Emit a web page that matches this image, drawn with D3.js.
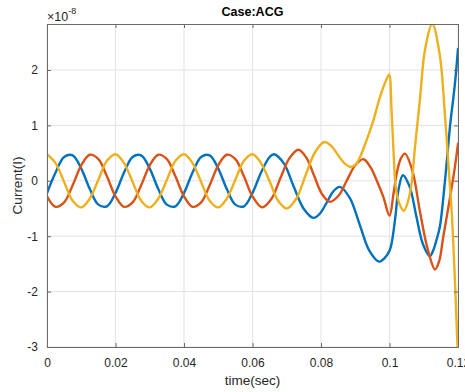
<!DOCTYPE html>
<html><head><meta charset="utf-8">
<script src="https://cdn.jsdelivr.net/npm/d3@7"></script>
<style>
body{margin:0;background:#fff;}
svg{display:block;font-family:"Liberation Sans",Arial,Helvetica,sans-serif;}
</style>
</head><body>
<svg id="chart" width="465" height="392"></svg>
<script>
// ---- data (values in units of 1e-8 A) ----
const title = "Case:ACG";
const xLabel = "time(sec)";
const yLabel = "Current(I)";
const xTicks = [0, 0.02, 0.04, 0.06, 0.08, 0.1, 0.12];
const xTickLabels = ["0", "0.02", "0.04", "0.06", "0.08", "0.1", "0.12"];
const yTicks = [-3, -2, -1, 0, 1, 2];
const yTickLabels = ["-3", "-2", "-1", "0", "1", "2"];

const blueTime = [0,0.0025,0.005,0.0075,0.01,0.0125,0.015,0.0175,0.02,0.0225,0.025,0.0275,0.03,0.0325,0.035,0.0375,0.04,0.0425,0.045,0.0475,0.05,0.0525,0.055,0.0575,0.06,0.0625,0.065,
  0.0663,0.0692,0.0720,0.0749,0.0778,0.0797,0.0817,0.0836,0.0855,0.0884,0.0913,0.0941,0.0970,0.0985,0.1001,0.1016,0.1026,0.1039,0.1059,0.1078,0.1098,0.1118,0.1128,0.1138,0.1147,0.1162,0.1177,0.1191,0.12];
const blueValues = [-0.22,0.15,0.43,0.46,0.22,-0.15,-0.43,-0.46,-0.22,0.15,0.43,0.46,0.22,-0.15,-0.43,-0.46,-0.22,0.15,0.43,0.46,0.22,-0.15,-0.43,-0.46,-0.22,0.15,0.43,
  0.48,0.31,-0.10,-0.50,-0.67,-0.59,-0.39,-0.19,-0.11,-0.31,-0.79,-1.26,-1.46,-1.40,-1.25,-0.71,-0.17,0.10,-0.11,-0.63,-1.15,-1.36,-1.25,-1.05,-0.83,0.0,1.0,1.75,2.38];

const redTime = [0,0.0025,0.005,0.0075,0.01,0.0125,0.015,0.0175,0.02,0.0225,0.025,0.0275,0.03,0.0325,0.035,0.0375,0.04,0.0425,0.045,0.0475,0.05,0.0525,0.055,0.0575,0.06,
  0.0628,0.0655,0.0681,0.0708,0.0734,0.0757,0.0780,0.0803,0.0826,0.0851,0.0875,0.0900,0.0924,0.0944,0.0963,0.0982,0.1000,0.1012,0.1021,0.1033,0.1045,0.1067,0.1089,0.1111,0.1133,0.1145,0.1157,0.1177,0.1191,0.12];
const redValues = [-0.28,-0.47,-0.39,-0.08,0.28,0.47,0.39,0.08,-0.28,-0.47,-0.39,-0.08,0.28,0.47,0.39,0.08,-0.28,-0.47,-0.39,-0.08,0.28,0.47,0.39,0.08,-0.28,
  -0.48,-0.33,0.04,0.41,0.56,0.42,0.09,-0.24,-0.38,-0.27,0.0,0.28,0.39,0.25,0.0,-0.29,-0.63,-0.22,0.13,0.40,0.49,0.18,-0.56,-1.22,-1.60,-1.45,-1.01,-0.29,0.25,0.67];

const yellowTime = [0,0.0025,0.005,0.0075,0.01,0.0125,0.015,0.0175,0.02,0.0225,0.025,0.0275,0.03,0.0325,0.035,0.0375,0.04,0.0425,0.045,0.0475,0.05,0.0525,0.055,0.0575,0.06,0.0625,
  0.065,0.0675,0.070,0.0728,0.0755,0.0783,0.0810,0.0830,0.0849,0.0868,0.0887,0.0902,0.0914,0.0933,0.0953,0.0972,0.0992,0.0999,0.1006,0.1013,0.1018,0.1028,0.1042,0.1055,0.1065,0.1074,0.1089,0.1104,0.1125,0.1147,0.1162,0.1172,0.1182,0.1191,0.1198,0.12];
const yellowValues = [0.48,0.32,-0.02,-0.36,-0.48,-0.32,0.02,0.36,0.48,0.32,-0.02,-0.36,-0.48,-0.32,0.02,0.36,0.48,0.32,-0.02,-0.36,-0.48,-0.32,0.02,0.36,0.48,0.32,
  -0.01,-0.36,-0.50,-0.32,0.10,0.52,0.70,0.63,0.47,0.32,0.25,0.30,0.43,0.73,1.09,1.51,1.84,1.92,1.27,0.37,-0.10,-0.40,-0.54,-0.35,-0.02,0.58,1.48,2.38,2.83,2.26,1.18,0.30,-0.60,-1.80,-2.90,-3.10];

const seriesColors = ["#0072BD", "#D95319", "#EDB120"];

// ---- layout ----
const svg = d3.select("#chart");
const L = 47, R = 458, T = 24, B = 347;
const x = d3.scaleLinear().domain([0, 0.12]).range([L, R]);
const y = d3.scaleLinear().domain([-3, 2.83]).range([B, T]);

// grid
const grid = svg.append("g").attr("stroke", "#e3e3e3").attr("stroke-width", 1);
xTicks.forEach(t => grid.append("line").attr("x1", x(t)).attr("x2", x(t)).attr("y1", T).attr("y2", B));
yTicks.forEach(t => grid.append("line").attr("x1", L).attr("x2", R).attr("y1", y(t)).attr("y2", y(t)));

// clip
svg.append("defs").append("clipPath").attr("id", "clip")
  .append("rect").attr("x", L).attr("y", T).attr("width", R - L).attr("height", B - T);

const line = d3.line().x(d => x(d[0])).y(d => y(d[1])).curve(d3.curveCatmullRom.alpha(0.5));
const series = [
  d3.zip(blueTime, blueValues),
  d3.zip(redTime, redValues),
  d3.zip(yellowTime, yellowValues)
];
const plot = svg.append("g").attr("clip-path", "url(#clip)");
series.forEach((s, i) => {
  plot.append("path").datum(s).attr("d", line)
    .attr("fill", "none").attr("stroke", seriesColors[i])
    .attr("stroke-width", 2.4).attr("stroke-linejoin", "round").attr("stroke-linecap", "round");
});

// axes
const axColor = "#6a6a6a", txtColor = "#262626";
function style(g) {
  g.select(".domain").attr("stroke", axColor);
  g.selectAll(".tick line").attr("stroke", axColor);
  g.selectAll(".tick text").attr("fill", txtColor).attr("font-size", "12px")
    .attr("font-family", '"Liberation Sans",Arial,Helvetica,sans-serif');
}
const xAxis = d3.axisBottom(x).tickValues(xTicks).tickFormat((d, i) => xTickLabels[i]).tickSizeInner(-4).tickSizeOuter(0).tickPadding(11);
svg.append("g").attr("transform", `translate(0,${B})`).call(xAxis).call(style);
const xTop = d3.axisTop(x).tickValues(xTicks).tickFormat("").tickSizeInner(-4).tickSizeOuter(0);
svg.append("g").attr("transform", `translate(0,${T})`).call(xTop).call(style);
const yAxis = d3.axisLeft(y).tickValues(yTicks).tickFormat((d, i) => yTickLabels[i]).tickSizeInner(-4).tickSizeOuter(0).tickPadding(9);
svg.append("g").attr("transform", `translate(${L},0)`).call(yAxis).call(style);
const yRight = d3.axisRight(y).tickValues(yTicks).tickFormat("").tickSizeInner(-4).tickSizeOuter(0);
svg.append("g").attr("transform", `translate(${R},0)`).call(yRight).call(style);

// title and labels
svg.append("text").attr("x", (L + R) / 2).attr("y", 16).attr("text-anchor", "middle")
  .attr("font-weight", "bold").attr("font-size", "12.5px").attr("fill", "#000").text(title);
svg.append("text").attr("x", (L + R) / 2).attr("y", 385).attr("text-anchor", "middle")
  .attr("font-size", "13.5px").attr("fill", txtColor).text(xLabel);
svg.append("text").attr("transform", `translate(22,${(T + B) / 2}) rotate(-90)`).attr("text-anchor", "middle")
  .attr("font-size", "13.5px").attr("fill", txtColor).text(yLabel);

// exponent
const ex = svg.append("text").attr("x", 47).attr("y", 21).attr("font-size", "12.5px").attr("fill", txtColor);
ex.append("tspan").text("\u00d710");
ex.append("tspan").attr("dy", -7).attr("font-size", "9px").text("-8");
</script>
</body></html>
